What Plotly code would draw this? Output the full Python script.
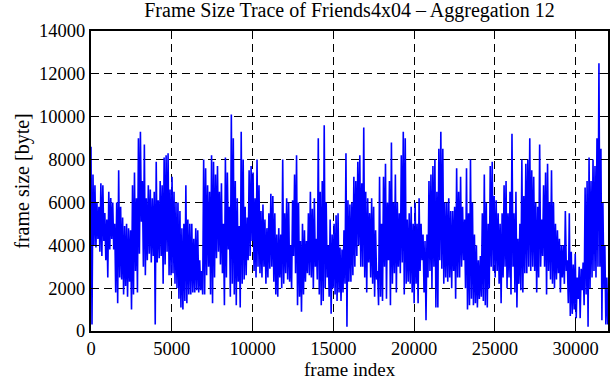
import numpy as np
import plotly.graph_objects as go

seg_a = [8600, 300, 7300, 4000, 6800, 3900, 6000, 4300, 5800, 3700, 6900, 3500,
         6800, 4200, 5500, 3300, 5200, 2500, 6500, 3800, 6200, 4300, 6000, 3800,
         5000, 1800, 6000, 1300, 7500, 2500, 5800, 2400, 5300, 1700, 4900, 2100,
         5000, 1600, 4800, 2300, 4700, 1000, 6800, 1700, 7400, 2800, 6200, 1800,
         9000, 3600, 9300, 5100, 7000, 3000, 8700, 2600, 6200, 3300, 6800, 3600,
         6600, 3200, 6200, 3500, 6500, 300, 7900, 3200, 6100, 3400, 7000, 3500,
         6800, 2200, 8100, 3100, 8200, 3700, 8300, 2600, 6600, 2600, 7200, 2700,
         6500, 2200, 6000, 2000]
seg_b = [6000, 1500, 5600, 1100, 4800, 1000, 5000, 1400, 6800, 1300, 5200, 1700,
         5000, 1700, 5000, 1800, 4300, 1800, 4800, 1900, 4700, 1800, 3300, 1900,
         2800, 1700, 8000, 1700, 7600, 2600, 6800, 3000, 6500, 1700, 8200, 1300,
         7900, 2500, 7300, 3400, 7700, 3700, 6500, 3100, 6900, 2700, 5000, 1200,
         8100, 2500, 7400, 3800, 5800, 1600, 10100, 2200, 9000, 1700, 7000, 1200,
         6200, 2300, 4900, 1100, 9300, 2200, 8000, 2400, 5800, 2600, 5300, 3300,
         7500, 3500, 7700, 4200, 7400, 2800, 6200, 2500, 8000, 3000, 6800, 2700,
         5600, 2500, 5900, 3000]
seg_c = [5200, 2200, 4800, 2500, 5500, 2900, 6400, 3000, 6300, 2300, 5500, 1700,
         4500, 1600, 4800, 2500, 4500, 2000, 8000, 2200, 5500, 2700, 6200, 2400,
         6000, 2300, 4000, 2000, 6100, 3500, 7300, 2700, 8200, 1200, 6000, 1600,
         4200, 900, 5000, 1700, 4700, 2300, 4200, 2700, 5500, 2600, 6500, 2500,
         5700, 2000, 6200, 3000, 4300, 2400, 9000, 1700, 6500, 1200, 7000, 1400,
         9600, 2000, 6000, 2500, 4000, 1600, 5200, 800, 4500, 2000, 5000, 1700,
         5400, 1400, 5500, 1800, 3900, 1400, 3800, 1800, 4700, 2200, 8300, 200,
         6100, 2300]
seg_d = [5900, 2300, 6000, 2600, 7200, 3000, 7000, 3500, 7900, 4000, 8200, 3000,
         6900, 3000, 9500, 2500, 6500, 1800, 6200, 3200, 5500, 2500, 6200, 2200,
         5800, 1600, 4700, 2400, 2800, 1200, 7200, 1600, 5000, 1400, 7200, 3000,
         7800, 1500, 6000, 3300, 7000, 1200, 8800, 2200, 6000, 2700, 7300, 1800,
         6000, 3000, 5500, 2700, 8200, 3200, 9300, 1700, 9000, 2200, 5200, 2300,
         5500, 2200, 5800, 1800, 5000, 1300, 6000, 2200, 5000, 1300, 6200, 2800,
         5000, 3300, 4500, 1800, 4200, 500, 4500, 2500, 7000, 2800, 7300, 2000,
         7700, 3000, 8000, 1100]
seg_e = [6500, 1100, 8500, 3300, 9300, 2900, 8500, 2200, 6000, 2500, 6000, 2300,
         6200, 2500, 5600, 2000, 5600, 2800, 5800, 1500, 7600, 2500, 6500, 2500,
         7200, 3000, 5800, 3300, 5200, 2000, 7600, 1000, 5500, 1200, 8000, 1500,
         6000, 1200, 4500, 1300, 4000, 1100, 3300, 1500, 3500, 1600, 5500, 1400,
         7300, 1200, 6000, 1100, 5000, 2000, 7700, 3000, 7900, 2800, 6300, 2500,
         6100, 2800, 5500, 2200, 5000, 1300, 5500, 2500, 6800, 3000, 7000, 2000,
         5500, 2500, 6500, 1700, 9200, 3000, 5500, 1800, 6500, 1100, 4300, 2200,
         5000, 1900, 8000, 1800]
seg_f = [6300, 2700, 7800, 2700, 8000, 3000, 9000, 2800, 7500, 3000, 7200, 2800,
         6000, 1800, 5800, 2500, 8700, 3000, 5200, 3500, 6800, 3000, 7400, 1700,
         7800, 2800, 6000, 2400, 7500, 2200, 6000, 2000, 5000, 2400, 4700, 2700,
         4300, 1800, 4000, 2500, 4000, 2200, 5600, 2800, 3300, 1300, 5500, 700,
         3700, 800, 3100, 1000, 3600, 600, 2500, 1500, 3000, 600, 2900, 1900,
         3200, 1200, 6700, 1700, 7000, 200, 8100, 2000, 7000, 2500, 8000, 2800,
         7700, 2500, 9000, 3000, 12500, 3000, 8500, 500, 6000, 2000, 4000, 300,
         2500, 300]

frame_size = seg_a + seg_b + seg_c + seg_d + seg_e + seg_f
last_frame = 31990
frame_index = np.linspace(0, last_frame, len(frame_size))

x_ticks = [0, 5000, 10000, 15000, 20000, 25000, 30000]
x_tick_labels = ["0", "5000", "10000", "15000", "20000", "25000", "30000"]
y_ticks = [0, 2000, 4000, 6000, 8000, 10000, 12000, 14000]
y_tick_labels = ["0", "2000", "4000", "6000", "8000", "10000", "12000", "14000"]

FONT = "Liberation Serif"

fig = go.Figure(go.Scatter(
    x=frame_index, y=frame_size, mode="lines",
    line=dict(color="#0000ff", width=1.6),
    showlegend=False,
))

axis_common = dict(
    showline=True, linecolor="black", linewidth=2, mirror="allticks",
    ticks="inside", ticklen=7, tickwidth=1, tickcolor="black",
    showgrid=True, gridcolor="black", gridwidth=1, griddash="8px,5px",
    zeroline=False, automargin=False,
    tickfont=dict(family=FONT, size=18.5, color="black"),
)

fig.update_layout(
    width=611, height=380,
    margin=dict(l=91, r=3, t=31, b=49),
    paper_bgcolor="white", plot_bgcolor="white",
    title=dict(text="Frame Size Trace of Friends4x04 – Aggregation 12",
               x=0.5, xref="paper", xanchor="center",
               y=1 - 10 / 380, yref="container", yanchor="middle",
               font=dict(family=FONT, size=20, color="black")),
    xaxis=dict(range=[0, 32000], tickvals=x_ticks, ticktext=x_tick_labels,
               **axis_common),
    yaxis=dict(range=[0, 14000], tickvals=y_ticks, ticktext=y_tick_labels,
               title=dict(text="frame size [byte]", standoff=4,
                          font=dict(family=FONT, size=20, color="black")),
               **axis_common),
    annotations=[dict(text="frame index", xref="paper", yref="paper",
                      x=0.5, y=-0.128, xanchor="center", yanchor="middle",
                      showarrow=False, borderpad=0,
                      font=dict(family=FONT, size=19, color="black"))],
)

fig.write_html("out.html")
